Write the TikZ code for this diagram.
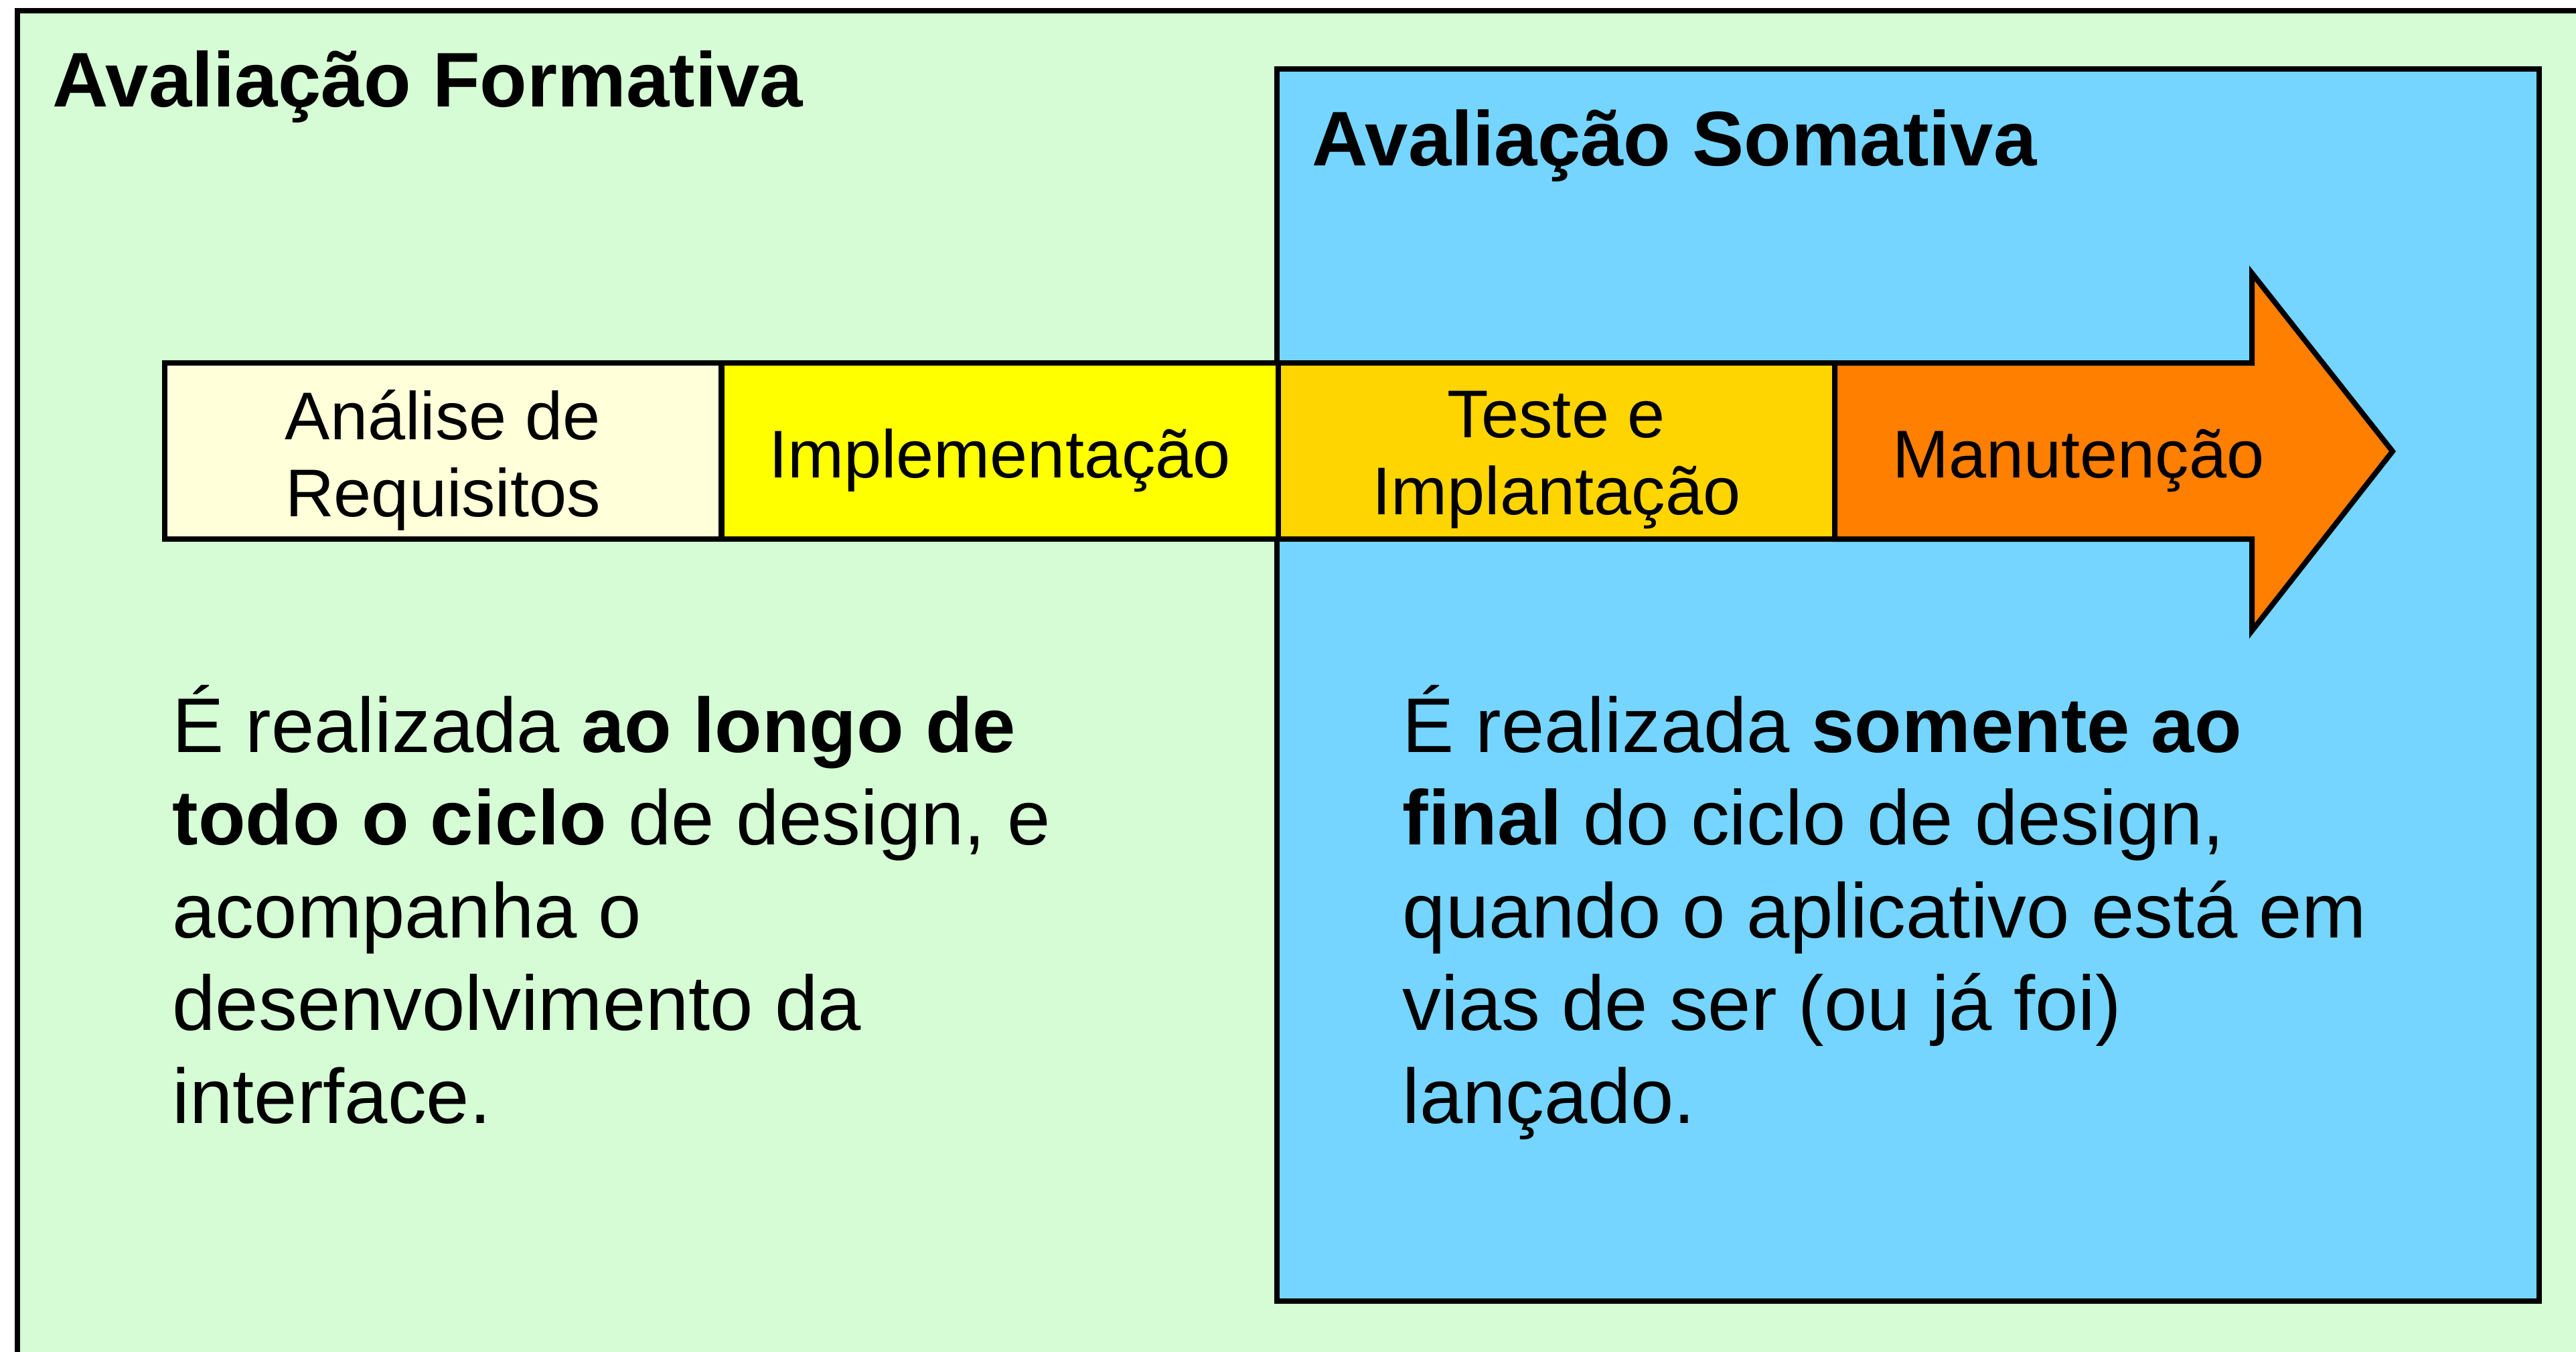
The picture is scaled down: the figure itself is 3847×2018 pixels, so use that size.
\documentclass[tikz,border=0pt]{standalone}
\usepackage{fontspec}
\setmainfont{Liberation Sans}
\definecolor{formbg}{RGB}{213,252,213}
\definecolor{somabg}{RGB}{117,213,255}
\definecolor{reqfill}{RGB}{255,255,217}
\definecolor{implfill}{RGB}{255,255,0}
\definecolor{testfill}{RGB}{255,213,0}
\definecolor{manutfill}{RGB}{255,127,0}
\tikzset{
    etapa/.style={rectangle, draw, line width=0.8mm, minimum width=83.1mm, minimum height=26.3mm, inner sep=0mm, outer sep=0mm},
    rotulo/.style={inner sep=0mm, align=center, font=\fontsize{28.7pt}{32.7pt}\selectfont},
    titulo/.style={anchor=base west, inner sep=0mm, font=\bfseries\fontsize{32.9pt}{39.4pt}\selectfont},
    corpo/.style={anchor=base west, inner sep=0mm, align=left, font=\fontsize{32.9pt}{39.4pt}\selectfont}
}
\begin{document}
\begin{tikzpicture}[x=0.1mm, y=-0.1mm]
    \useasboundingbox (0,0) rectangle (3847,2018);
    \clip (0,0) rectangle (3847,2018);
    \draw[fill=formbg, line width=0.8mm] (26,16) rectangle (3950,2100);
    \draw[fill=somabg, line width=0.8mm] (1907,103) rectangle (3792,1943);

    \node (form) [titulo] at (78,159) {Avaliação Formativa};
    \node (soma) [titulo] at (1959,247) {Avaliação Somativa};

    \draw[fill=manutfill, line width=0.8mm, line join=miter]
        (2740,542) -- (3363,542) -- (3363,408) -- (3573,674)
        -- (3363,942) -- (3363,805) -- (2740,805) -- cycle;

    \node (req) [etapa, fill=reqfill] at (661.5,673.5) {};
    \node (impl) [etapa, fill=implfill] at (1493,673.5) {};
    \node (test) [etapa, fill=testfill] at (2324.5,673.5) {};

    \node (reqtxt) [rotulo] at (661.5,687) {Análise de\\Requisitos};
    \node (impltxt) [rotulo] at (1493,688) {Implementação};
    \node (testtxt) [rotulo] at (2324.5,687) {Teste e\\Implantação};
    \node (manuttxt) [rotulo] at (3104,688) {Manutenção};

    \node (txtform) [corpo] at (257,1677) {É realizada \textbf{ao longo de}\\
        \textbf{todo o ciclo} de design, e\\
        acompanha o\\
        desenvolvimento da\\
        interface.};
    \node (txtsoma) [corpo] at (2094,1677) {É realizada \textbf{somente ao}\\
        \textbf{final} do ciclo de design,\\
        quando o aplicativo está em\\
        vias de ser (ou já foi)\\
        lançado.};
\end{tikzpicture}
\end{document}
